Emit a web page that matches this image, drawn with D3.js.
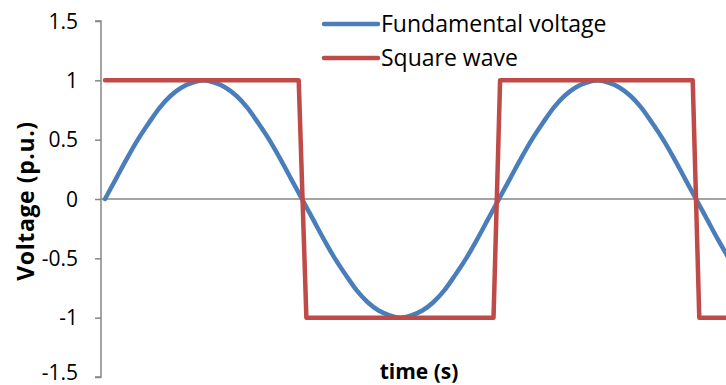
<!DOCTYPE html>
<html>
<head>
<meta charset="utf-8">
<script src="https://cdn.jsdelivr.net/npm/d3@7"></script>
<style>
  html, body { margin: 0; padding: 0; background: #fff; }
  svg { display: block; font-family: "Open Sans", sans-serif; }
</style>
</head>
<body>
<script>
// ---- data (angle in degrees, value in p.u.) ----
const sineT = [0,10,20,30,40,50,60,70,80,90,100,110,120,130,140,150,160,170,180,
  190,200,210,220,230,240,250,260,270,280,290,300,310,320,330,340,350,360,
  370,380,390,400,410,420,430,440,450,460,470,480,490,500,510,520,530,540,
  550,560,570];
const sineV = [0,0.17,0.34,0.5,0.64,0.77,0.87,0.94,0.98,1,0.98,0.94,0.87,0.77,0.64,0.5,0.34,0.17,0,
  -0.17,-0.34,-0.5,-0.64,-0.77,-0.87,-0.94,-0.98,-1,-0.98,-0.94,-0.87,-0.77,-0.64,-0.5,-0.34,-0.17,0,
  0.17,0.34,0.5,0.64,0.77,0.87,0.94,0.98,1,0.98,0.94,0.87,0.77,0.64,0.5,0.34,0.17,0,
  -0.17,-0.34,-0.5];
const squareT = [0,177,184,355,361,537,543,570];
const squareV = [1,1,-1,-1,1,1,-1,-1];
const yTicks = [-1.5,-1,-0.5,0,0.5,1,1.5];
const seriesNames = ["Fundamental voltage","Square wave"];
const colors = ["#4a7ebb","#be4b48"];

const width = 726, height = 385;
const x0 = 105, axisX = 101;

const svg = d3.select("body").append("svg")
  .attr("width", width).attr("height", height);

const x = d3.scaleLinear().domain([0, 540]).range([x0, 696]);
const y = d3.scaleLinear().domain([-1.5, 1.5]).range([377, 21]);

// y axis
const yAxis = svg.append("g")
  .attr("transform", `translate(${axisX},0)`)
  .call(d3.axisLeft(y).tickValues(yTicks).tickSize(6).tickPadding(17)
    .tickFormat(d => String(d)));
yAxis.attr("font-size", null).attr("font-family", null);
yAxis.selectAll("path,line").attr("stroke", "#868686").attr("stroke-width", 1.5);
yAxis.select(".domain").attr("d", `M-6,${y(1.5)}H0V${y(-1.5)}H-6`);
yAxis.selectAll("text")
  .style("font-size", "21px").style("font-family", "'Open Sans', sans-serif")
  .attr("fill", "#000")
  .attr("dy", d => d === -1.5 ? "0.12em" : "0.34em");

// zero line
svg.append("line")
  .attr("x1", axisX).attr("x2", width)
  .attr("y1", y(0)).attr("y2", y(0))
  .attr("stroke", "#868686").attr("stroke-width", 1.5);

const line = d3.line().x(d => x(d[0])).y(d => y(d[1]));

svg.append("path")
  .datum(sineT.map((t, i) => [t, sineV[i]]))
  .attr("fill", "none").attr("stroke", colors[0]).attr("stroke-width", 4.5)
  .attr("stroke-linejoin", "round").attr("stroke-linecap", "round")
  .attr("d", d3.line().x(d => x(d[0])).y(d => y(d[1])).curve(d3.curveCatmullRom));

svg.append("path")
  .datum(squareT.map((t, i) => [t, squareV[i]]))
  .attr("fill", "none").attr("stroke", colors[1]).attr("stroke-width", 4.5)
  .attr("stroke-linejoin", "round").attr("stroke-linecap", "round")
  .attr("d", line);

// legend
const legend = svg.append("g");
seriesNames.forEach((name, i) => {
  const ly = 24 + i * 34;
  legend.append("line")
    .attr("x1", 324).attr("x2", 378).attr("y1", ly).attr("y2", ly)
    .attr("stroke", colors[i]).attr("stroke-width", 4.5).attr("stroke-linecap", "round");
  legend.append("text")
    .attr("x", 381).attr("y", ly + 8)
    .style("font-size", "23px").attr("fill", "#000")
    .text(name);
});

// axis titles
svg.append("text")
  .attr("transform", `translate(34,${y(0) + 2}) rotate(-90)`)
  .attr("text-anchor", "middle")
  .style("font-size", "23px").attr("font-weight", "bold")
  .attr("letter-spacing", "0.6px")
  .text("Voltage (p.u.)");

svg.append("text")
  .attr("x", 419).attr("y", 379)
  .attr("text-anchor", "middle")
  .style("font-size", "21px").attr("font-weight", "bold")
  .text("time (s)");
</script>
</body>
</html>
